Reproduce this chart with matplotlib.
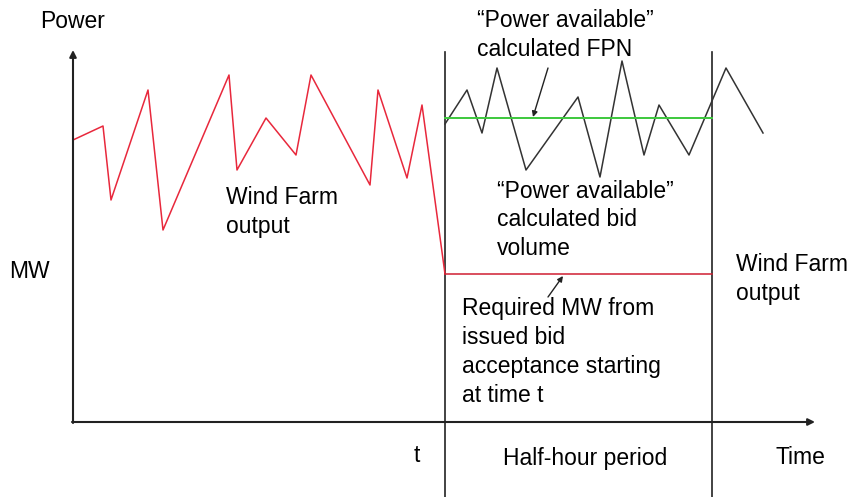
import matplotlib
matplotlib.use("Agg")
import matplotlib.pyplot as plt

plt.rcParams['font.family'] = ['Liberation Sans', 'DejaVu Sans']

# wind farm output before time t (red)
wind_t = [0, 30, 38, 75, 90, 156, 164, 193, 223, 238, 297, 305, 334, 349, 372]
wind_p = [282, 296, 222, 332, 192, 347, 252, 304, 267, 347, 237, 332, 244, 317, 148]

# "power available" signal after t (black)
avail_t = [372, 394, 409, 424, 453, 505, 527, 549, 571, 586, 616, 653, 690]
avail_p = [298, 332, 289, 354, 252, 325, 245, 361, 267, 317, 267, 354, 289]

t_start = 372
t_end = 639
fpn_level = 304
bid_level = 148

fig = plt.figure(figsize=(8.53, 4.97), dpi=100)
ax = fig.add_axes([0, 0, 1, 1])
ax.set_xlim(-73, 780)
ax.set_ylim(-75, 422)
ax.axis('off')

# axes with arrows
ax.annotate('', xy=(0, 372), xytext=(0, -1),
            arrowprops=dict(arrowstyle='-|>', color='#222222', lw=1.5,
                            mutation_scale=10, shrinkA=0, shrinkB=0))
ax.annotate('', xy=(742, 0), xytext=(-1, 0),
            arrowprops=dict(arrowstyle='-|>', color='#222222', lw=1.5,
                            mutation_scale=10, shrinkA=0, shrinkB=0))

# half-hour boundaries
ax.plot([t_start, t_start], [-75, 370], color='#222222', lw=1.2)
ax.plot([t_end, t_end], [-75, 370], color='#222222', lw=1.2)

ax.plot(wind_t, wind_p, color='#e8283c', lw=1.1)
ax.plot([t_start, t_end], [bid_level, bid_level], color='#d01e32', lw=1.1)
ax.plot(avail_t, avail_p, color='#333333', lw=1.1)
ax.plot([t_start, t_end], [fpn_level, fpn_level], color='#3cc83c', lw=1.4)

arrow = dict(arrowstyle='-|>', color='#222222', lw=1.0, mutation_scale=8,
             shrinkA=0, shrinkB=0)
ax.annotate('', xy=(460, 305), xytext=(475, 354), arrowprops=arrow)
ax.annotate('', xy=(490, 146), xytext=(475, 125), arrowprops=arrow)

fs = 16.5
ls = 1.33
ax.text(-33, 400, 'Power', fontsize=fs, va='center')
ax.text(-64, 151, 'MW', fontsize=fs, va='center')
ax.text(153, 210, 'Wind Farm\noutput', fontsize=fs, va='center', linespacing=ls)
ax.text(404, 387, '\u201cPower available\u201d\ncalculated FPN', fontsize=fs,
        va='center', linespacing=ls)
ax.text(424, 202, '\u201cPower available\u201d\ncalculated bid\nvolume', fontsize=fs,
        va='center', linespacing=ls)
ax.text(389, 70, 'Required MW from\nissued bid\nacceptance starting\nat time t',
        fontsize=fs, va='center', linespacing=ls)
ax.text(663, 143, 'Wind Farm\noutput', fontsize=fs, va='center', linespacing=ls)
ax.text(344, -33, 't', fontsize=fs, ha='center', va='center')
ax.text(430, -36, 'Half-hour period', fontsize=fs, va='center')
ax.text(703, -35, 'Time', fontsize=fs, va='center')

fig.savefig('out.png', dpi=100)
